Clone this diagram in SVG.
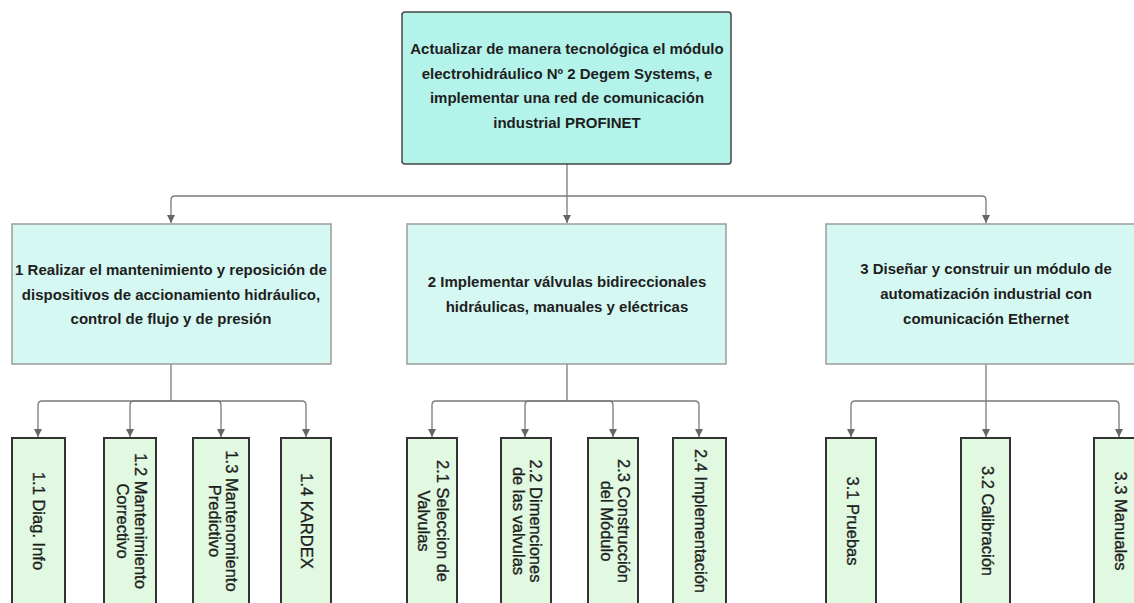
<svg xmlns="http://www.w3.org/2000/svg" width="1134" height="603" viewBox="0 0 1134 603">
<style>
.top{fill:#b4f3ea;stroke:#454545;stroke-width:1.5}
.l2{fill:#d6f8f2;stroke:#9c9c9c;stroke-width:1.5}
.l3{fill:#e0f9e0;stroke:#333;stroke-width:2}
.tb{font-family:"Liberation Sans",Arial,sans-serif;font-weight:bold;font-size:15px;fill:#1e1e1e;text-anchor:middle}
.tr{font-family:"Liberation Sans",Arial,sans-serif;font-size:16.5px;fill:#1e1e1e;stroke:#1e1e1e;stroke-width:0.35;text-anchor:middle}
.c{fill:none;stroke:#7a7a7a;stroke-width:1.3}
</style>
<defs>
<marker id="ah" markerUnits="userSpaceOnUse" markerWidth="10" markerHeight="10" refX="8" refY="4" orient="auto">
<path d="M0,0 L8,4 L0,8 Z" fill="#666"/>
</marker>
</defs>
<rect width="1134" height="603" fill="#fff"/>
<g id="connectors">
<path class="c" d="M567,164 V223" marker-end="url(#ah)"/>
<path class="c" d="M567,196 H175 Q171,196 171,200 V223" marker-end="url(#ah)"/>
<path class="c" d="M567,196 H982 Q986,196 986,200 V223" marker-end="url(#ah)"/>
<path class="c" d="M171,364 V401"/>
<path class="c" d="M171,401 H42 Q38,401 38,405 V437" marker-end="url(#ah)"/>
<path class="c" d="M171,401 H134 Q130,401 130,405 V437" marker-end="url(#ah)"/>
<path class="c" d="M171,401 H217 Q221,401 221,405 V437" marker-end="url(#ah)"/>
<path class="c" d="M171,401 H302 Q306,401 306,405 V437" marker-end="url(#ah)"/>
<path class="c" d="M567,364 V401"/>
<path class="c" d="M567,401 H436 Q432,401 432,405 V437" marker-end="url(#ah)"/>
<path class="c" d="M567,401 H529 Q525,401 525,405 V437" marker-end="url(#ah)"/>
<path class="c" d="M567,401 H609 Q613,401 613,405 V437" marker-end="url(#ah)"/>
<path class="c" d="M567,401 H695 Q699,401 699,405 V437" marker-end="url(#ah)"/>
<path class="c" d="M986,364 V437" marker-end="url(#ah)"/>
<path class="c" d="M986,401 H855 Q851,401 851,405 V437" marker-end="url(#ah)"/>
<path class="c" d="M986,401 H1115 Q1119,401 1119,405 V437" marker-end="url(#ah)"/>
</g>
<g id="n0">
<rect class="top" x="402" y="12" width="329" height="152" rx="3"/>
<text class="tb" x="567" y="54">Actualizar de manera tecnológica el módulo</text>
<text class="tb" x="567" y="78.7">electrohidráulico Nº 2 Degem Systems, e</text>
<text class="tb" x="567" y="103.3">implementar una red de comunicación</text>
<text class="tb" x="567" y="128">industrial PROFINET</text>
</g>
<g id="n1">
<rect class="l2" x="12" y="224" width="319" height="140"/>
<text class="tb" x="171" y="275">1 Realizar el mantenimiento y reposición de</text>
<text class="tb" x="171" y="300">dispositivos de accionamiento hidráulico,</text>
<text class="tb" x="171" y="324">control de flujo y de presión</text>
</g>
<g id="n2">
<rect class="l2" x="407" y="224" width="319" height="140"/>
<text class="tb" x="567" y="287">2 Implementar válvulas bidireccionales</text>
<text class="tb" x="567" y="312">hidráulicas, manuales y eléctricas</text>
</g>
<g id="n3">
<rect class="l2" x="826" y="224" width="320" height="140"/>
<text class="tb" x="986" y="274">3 Diseñar y construir un módulo de</text>
<text class="tb" x="986" y="299">automatización industrial con</text>
<text class="tb" x="986" y="324">comunicación Ethernet</text>
</g>
<g id="n1_1">
<rect class="l3" x="12" y="438" width="53" height="172"/>
<text class="tr" transform="translate(38,521) rotate(90)" y="5.5">1.1 Diag. Info</text>
</g>
<g id="n1_2">
<rect class="l3" x="104" y="438" width="52" height="172"/>
<text class="tr" transform="translate(140,521) rotate(90)" y="5.5">1.2 Mantenimiento</text>
<text class="tr" transform="translate(122,521) rotate(90)" y="5.5">Correctivo</text>
</g>
<g id="n1_3">
<rect class="l3" x="193" y="438" width="56" height="172"/>
<text class="tr" transform="translate(231,521) rotate(90)" y="5.5">1.3 Mantenomiento</text>
<text class="tr" transform="translate(214,521) rotate(90)" y="5.5">Predictivo</text>
</g>
<g id="n1_4">
<rect class="l3" x="281" y="438" width="50" height="172"/>
<text class="tr" transform="translate(306,521) rotate(90)" y="5.5">1.4 KARDEX</text>
</g>
<g id="n2_1">
<rect class="l3" x="407" y="438" width="50" height="172"/>
<text class="tr" transform="translate(442,521) rotate(90)" y="5.5">2.1 Seleccion de</text>
<text class="tr" transform="translate(423,521) rotate(90)" y="5.5">Valvulas</text>
</g>
<g id="n2_2">
<rect class="l3" x="501" y="438" width="50" height="172"/>
<text class="tr" transform="translate(535,521) rotate(90)" y="5.5">2.2 Dimenciones</text>
<text class="tr" transform="translate(518,521) rotate(90)" y="5.5">de las valvulas</text>
</g>
<g id="n2_3">
<rect class="l3" x="588" y="438" width="50" height="172"/>
<text class="tr" transform="translate(623,521) rotate(90)" y="5.5">2.3 Construcción</text>
<text class="tr" transform="translate(606,521) rotate(90)" y="5.5">del Módulo</text>
</g>
<g id="n2_4">
<rect class="l3" x="673" y="438" width="53" height="172"/>
<text class="tr" transform="translate(700,521) rotate(90)" y="5.5">2.4 Implementación</text>
</g>
<g id="n3_1">
<rect class="l3" x="826" y="438" width="50" height="172"/>
<text class="tr" transform="translate(852,521) rotate(90)" y="5.5">3.1 Pruebas</text>
</g>
<g id="n3_2">
<rect class="l3" x="961" y="438" width="49" height="172"/>
<text class="tr" transform="translate(987,521) rotate(90)" y="5.5">3.2 Calibración</text>
</g>
<g id="n3_3">
<rect class="l3" x="1094" y="438" width="50" height="172"/>
<text class="tr" transform="translate(1120,521) rotate(90)" y="5.5">3.3 Manuales</text>
</g>
</svg>
